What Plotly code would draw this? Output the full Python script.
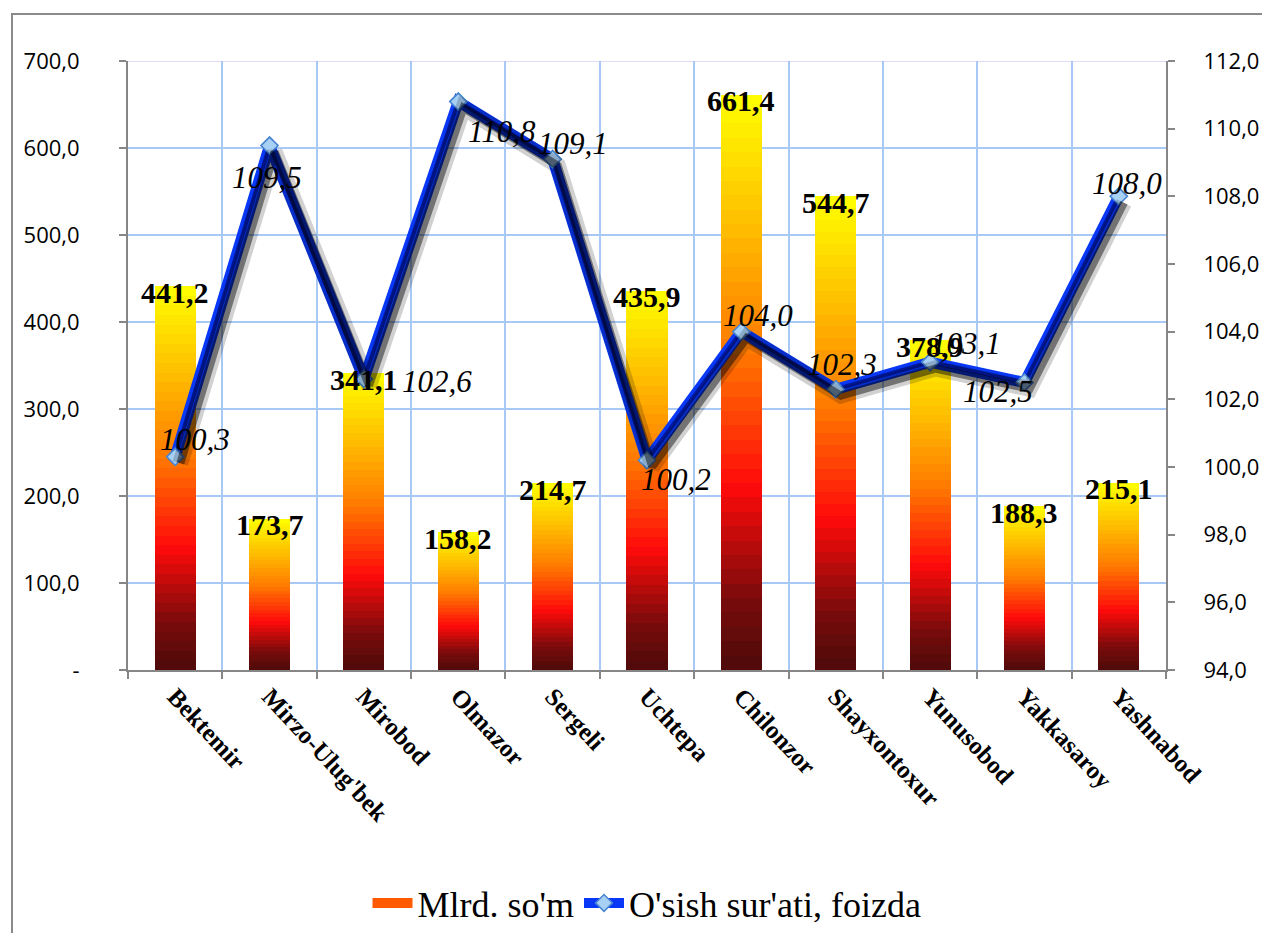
import plotly.graph_objects as go
from plotly.colors import sample_colorscale

# ---- data ----
districts = ["Bektemir", "Mirzo-Ulug'bek", "Mirobod", "Olmazor", "Sergeli", "Uchtepa",
             "Chilonzor", "Shayxontoxur", "Yunusobod", "Yakkasaroy", "Yashnabod"]
mlrd_som = [441.2, 173.7, 341.1, 158.2, 214.7, 435.9, 661.4, 544.7, 378.9, 188.3, 215.1]
osish = [100.3, 109.5, 102.6, 110.8, 109.1, 100.2, 104.0, 102.3, 103.1, 102.5, 108.0]
left_ticks = [0, 100, 200, 300, 400, 500, 600, 700]
left_ticktext = ["-", "100,0", "200,0", "300,0", "400,0", "500,0", "600,0", "700,0"]
right_ticks = [94, 96, 98, 100, 102, 104, 106, 108, 110, 112]

# ---- style ----
line_label_shift = [(20, 17), (-3, -32), (73, -2), (44, -30), (20, 16), (29, -19),
                    (17, 16), (6, 25), (36, 19), (-26, -9), (8, 13)]
grad = [[0.0, '#4e0a0a'], [0.12, '#780b0b'], [0.32, '#ff0a0a'], [0.55, '#ff7800'],
        [0.78, '#ffc000'], [1.0, '#ffff00']]
N = 40
seg_colors = sample_colorscale(grad, [(k + 0.5) / N for k in range(N)])
serif = "Liberation Serif"
sans = "Open Sans"

# page body has an 8px margin: figure coordinates are target coordinates minus 8
OFF = 8
W, H = 1270 - OFF, 933 - OFF
PL, PR, PT, PB = 128 - OFF, 1166 - OFF, 61 - OFF, 670 - OFF
pw, ph = PR - PL, PB - PT

fig = go.Figure()

# gradient bars as stacked segments
for k in range(N):
    fig.add_trace(go.Bar(
        x=districts, y=[v / N for v in mlrd_som],
        marker=dict(color=seg_colors[k], line=dict(width=0)),
        name="Mlrd. so'm", showlegend=False,
        hoverinfo='skip', xaxis='x', yaxis='y'))
# legend entry for the bars (gradient swatch)
fig.add_trace(go.Scatter(x=[None], y=[None], mode='lines', name="Mlrd. so'm",
                         line=dict(color='#ff5a00', width=18), legendrank=1,
                         xaxis='x', yaxis='y'))

# shadow of the line (drawn on slightly shifted overlay axes)
fig.add_trace(go.Scatter(x=districts, y=osish, mode='lines',
                         line=dict(color='rgba(0,0,0,0.18)', width=16),
                         showlegend=False, xaxis='x2', yaxis='y3', hoverinfo='skip'))
fig.add_trace(go.Scatter(x=districts, y=osish, mode='lines',
                         line=dict(color='rgba(0,0,0,0.45)', width=8),
                         showlegend=False, xaxis='x2', yaxis='y3', hoverinfo='skip'))
# main line
marker_style = dict(symbol='diamond', size=13, color='#a8d0f5',
                    line=dict(color='#4a86d0', width=1.5))
fig.add_trace(go.Scatter(x=districts, y=osish, mode='lines+markers',
                         line=dict(color='#0838f5', width=11), marker=marker_style,
                         name="O'sish sur'ati, foizda", legendrank=2,
                         xaxis='x', yaxis='y2'))
fig.add_trace(go.Scatter(x=districts, y=osish, mode='lines',
                         line=dict(color='#00189a', width=4),
                         showlegend=False, xaxis='x', yaxis='y2', hoverinfo='skip'))
fig.add_trace(go.Scatter(x=districts, y=osish, mode='markers', marker=marker_style,
                         showlegend=False, xaxis='x', yaxis='y2', hoverinfo='skip'))

annotations = []
for d, v in zip(districts, mlrd_som):
    annotations.append(dict(x=d, y=v, xref='x', yref='y', yshift=-6,
                            text=f"{v:.1f}".replace('.', ','), showarrow=False,
                            font=dict(family=serif, size=30, color='black', weight='bold'),
                            xanchor='center', yanchor='middle'))
for d, v, (dx, dy) in zip(districts, osish, line_label_shift):
    annotations.append(dict(x=d, y=v, xref='x', yref='y2', xshift=dx, yshift=dy,
                            text=f"<i>{v:.1f}</i>".replace('.', ','), showarrow=False,
                            font=dict(family=serif, size=31, color='black'),
                            xanchor='center', yanchor='middle'))

shapes = []
for yv, col in [(300, '#b68cf0'), (400, '#b68cf0'), (500, '#b68cf0'),
                (100, '#cfd0f8'), (700, '#cfd0f8')]:
    shapes.append(dict(type='line', xref='paper', yref='y', x0=0, x1=1, y0=yv, y1=yv,
                       line=dict(color=col, width=1.5), layer='below'))
# outer chart frame
shapes.append(dict(type='rect', xref='paper', yref='paper',
                   x0=(12 - OFF - PL) / pw, x1=(1268 - OFF - PL) / pw,
                   y0=(PB - (940 - OFF)) / ph, y1=(PB - (14 - OFF)) / ph,
                   line=dict(color='#8a8a8a', width=2), fillcolor='rgba(0,0,0,0)'))

axis_gray = '#868686'
fig.update_layout(
    width=W, height=H,
    margin=dict(l=PL, r=W - PR, t=PT, b=H - PB, autoexpand=False),
    paper_bgcolor='white', plot_bgcolor='white',
    separators=', ',
    barmode='stack', bargap=0.565,
    xaxis=dict(type='category', tickson='boundaries', showgrid=True,
               gridcolor='#a8c8f5', gridwidth=1.5, automargin=False,
               showline=True, linecolor=axis_gray, linewidth=2,
               ticks='outside', ticklen=7, tickcolor=axis_gray, tickwidth=2,
               tickangle=47,
               tickfont=dict(family=serif, size=25, color='black', weight='bold'),
               range=[-0.5, 10.5]),
    xaxis2=dict(type='category', overlaying='x', visible=False,
                range=[-0.5 - 0.055, 10.5 - 0.055]),
    yaxis=dict(range=[0, 700], tickvals=left_ticks, ticktext=left_ticktext,
               showgrid=True, gridcolor='#a8c8f5', gridwidth=1.5, zeroline=False,
               automargin=False,
               showline=True, linecolor=axis_gray, linewidth=2,
               ticks='outside', ticklen=7, tickcolor=axis_gray, tickwidth=2,
               ticklabelstandoff=35,
               tickfont=dict(family=sans, size=22, color='black')),
    yaxis2=dict(range=[94, 112], tickvals=right_ticks, tickformat='.1f', overlaying='y',
                side='right', showgrid=False, zeroline=False, automargin=False,
                showline=True, linecolor=axis_gray, linewidth=2,
                ticks='outside', ticklen=7, tickcolor=axis_gray, tickwidth=2,
                ticklabelposition='outside', ticklabelstandoff=24,
                tickfont=dict(family=sans, size=22, color='black')),
    yaxis3=dict(range=[94 + 0.19, 112 + 0.19], overlaying='y', visible=False),
    legend=dict(orientation='h', x=0.5, xanchor='center', y=(PB - (903 - OFF)) / ph,
                yanchor='middle', font=dict(family=serif, size=36, color='black'),
                itemwidth=40, traceorder='normal'),
    annotations=annotations, shapes=shapes,
)

fig.write_html("out.html")
